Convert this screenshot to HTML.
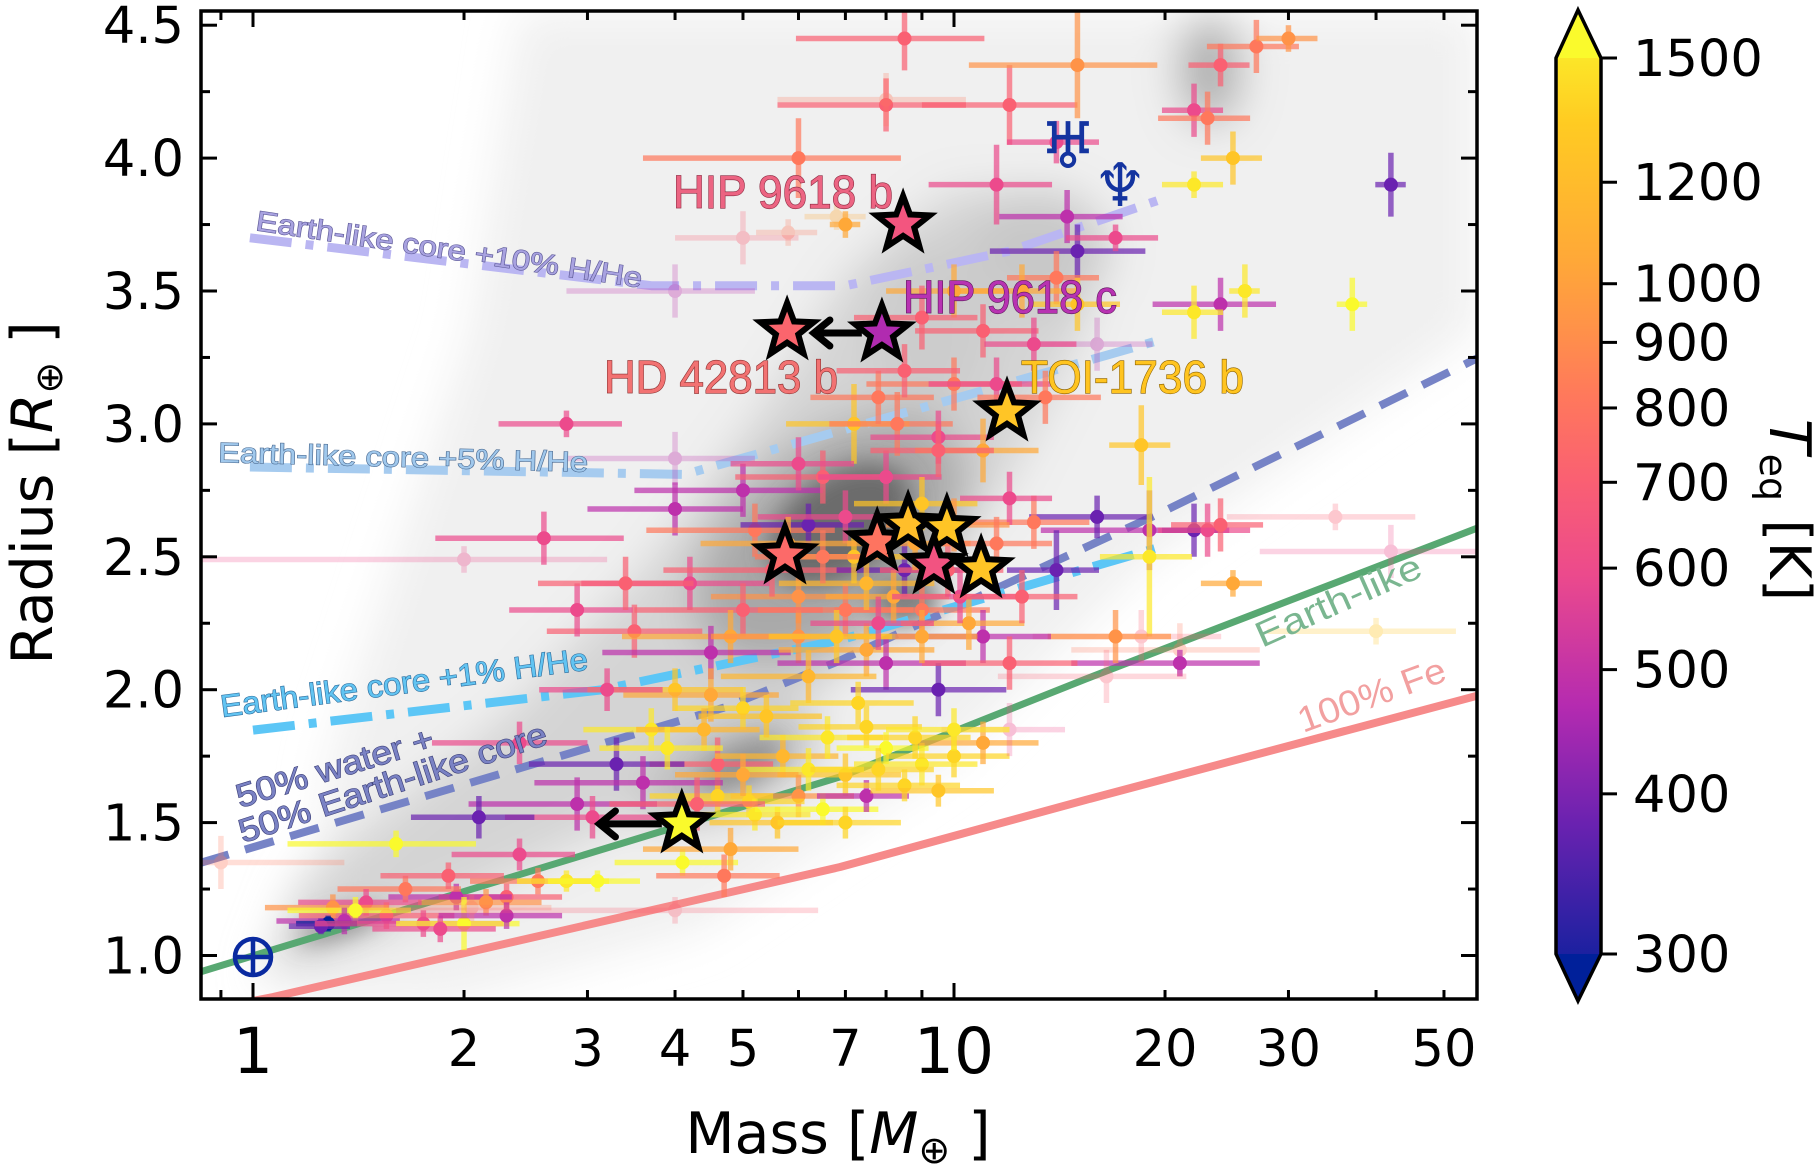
<!DOCTYPE html>
<html><head><meta charset="utf-8"><style>
html,body{margin:0;padding:0;background:#fff}
svg{display:block}
text{font-family:"DejaVu Sans","Liberation Sans",sans-serif}
.lbl{font-family:"Liberation Sans",sans-serif;paint-order:stroke}
</style></head><body>
<svg id="chart" width="1820" height="1167" viewBox="0 0 1820 1167" xmlns="http://www.w3.org/2000/svg">
<defs>
<clipPath id="plotclip"><rect x="201" y="11" width="1276" height="988"/></clipPath>
<filter id="blur" x="-20%" y="-20%" width="140%" height="140%"><feGaussianBlur stdDeviation="22"/></filter>
<filter id="blur2" x="-20%" y="-20%" width="140%" height="140%"><feGaussianBlur stdDeviation="12"/></filter>
<linearGradient id="cbgrad" x1="0" y1="1" x2="0" y2="0">
<stop offset="0" stop-color="#00209a"/><stop offset="0.179" stop-color="#6a22b0"/>
<stop offset="0.298" stop-color="#b52bb0"/><stop offset="0.431" stop-color="#ec4a8c"/>
<stop offset="0.527" stop-color="#fa6072"/><stop offset="0.609" stop-color="#ff785c"/>
<stop offset="0.682" stop-color="#ff9348"/><stop offset="0.747" stop-color="#ffa838"/>
<stop offset="0.886" stop-color="#ffcb22"/><stop offset="1" stop-color="#fafa2c"/>
</linearGradient>
</defs>
<g clip-path="url(#plotclip)">
  <g filter="url(#blur)">
    <polygon points="520,11 1477,11 1477,330 1150,560 950,760 700,930 450,1000 300,1000 330,760 470,330" fill="#f0f0f0"/>
    <polygon points="260,985 450,905 650,810 800,710 910,610 1010,480 1090,320 1070,190 950,190 850,270 760,410 650,560 500,720 300,880" fill="#d4d4d4"/>
    <ellipse cx="830" cy="540" rx="160" ry="95" transform="rotate(-40 830 540)" fill="#a8a8a8"/>
    <ellipse cx="730" cy="770" rx="95" ry="40" transform="rotate(-25 730 770)" fill="#b8b8b8"/>
    <ellipse cx="1040" cy="250" rx="70" ry="60" fill="#c8c8c8"/>
    <ellipse cx="1210" cy="70" rx="30" ry="55" fill="#a8a8a8"/>
    <ellipse cx="930" cy="330" rx="60" ry="90" fill="#cccccc"/>
  </g>
  <g filter="url(#blur2)">
    <ellipse cx="840" cy="525" rx="80" ry="50" transform="rotate(-35 840 525)" fill="#6c6c6c"/>
    <ellipse cx="905" cy="600" rx="35" ry="25" fill="#808080"/>
    <ellipse cx="340" cy="925" rx="45" ry="10" transform="rotate(-18 340 925)" fill="#808080"/>
    <ellipse cx="740" cy="765" rx="45" ry="18" transform="rotate(-25 740 765)" fill="#909090"/>
  </g>
  <g id="models"></g>
  <g id="points"></g>
  <g id="stars"></g>
</g>
<g id="axes"></g>
<g id="labels"></g>
<g id="colorbar"></g>
</svg>
<script>
// ---- data ----
const masses=[8.5,8,8,6,12,14,11.5,15,24,22,
27,30,23,25,22,42,14.5,15,17,14,
7,5.8,6.8,5,10,12.5,15,16,24,22,
26,37,4,9,11,13,10,11.5,13.5,2.8,
4,7.2,8.3,9.5,11,18.5,19,22,23,24,
16,14,13,12,19,35,42,40,25,21,
21,16.5,18.5,17,2.6,2.0,4,3.5,2.9,4.2,
5,5.2,6.2,6,5.5,5,4.8,4.5,6,7,
7.5,8,9,9.5,11,12,10.5,8.5,7,6.5,
8,9,10,7.5,9,
4,4.5,5,3.7,4.6,5.7,6.6,7.5,8,9,
10,11,12,7,6,5.1,4.6,5.2,5.6,6.5,
7.5,8.5,9.5,3.3,3.6,2.9,4.3,3.05,4.1,4.8,
4.7,2.1,2.4,1.6,0.9,2.55,2.8,3.1,2.3,1.95,
2.15,1.65,1.45,1.55,1.3,1.4,1.35,1.28,1.25,1.75,
2.0,1.85,2.3,2.05,4.0,
7.2,8.2,6.5,9.8,8.8,6.8,7.8,5.8,10.2,6.2,
7.3,5.4,6.2,7.8,8.8,5.0,4.4,3.9,9.5,7.8,
11.5,12.5,6.0,8.5,3.2,3.4,2.4,1.9,7.0,10.0];
const radii=[4.45,4.2,4.22,4.0,4.2,4.06,3.9,4.35,4.35,4.18,
4.42,4.45,4.15,4.0,3.9,3.9,3.78,3.65,3.7,3.55,
3.75,3.72,3.78,3.7,3.5,3.5,3.45,3.3,3.45,3.42,
3.5,3.45,3.5,3.4,3.35,3.3,3.15,3.15,3.1,3.0,
2.87,3.0,3.0,2.95,2.9,2.92,2.6,2.6,2.6,2.62,
2.65,2.45,2.63,2.72,2.5,2.65,2.52,2.22,2.4,2.15,
2.1,2.05,2.2,2.2,2.57,2.49,2.68,2.22,2.3,2.4,
2.75,2.6,2.62,2.35,2.45,2.3,2.2,2.14,2.2,2.3,
2.15,2.1,2.3,2.0,2.2,2.1,2.25,2.45,2.65,2.8,
2.8,2.7,2.62,2.4,2.2,
2.0,1.98,1.93,1.85,1.72,1.75,1.82,1.86,1.78,1.72,
1.75,1.8,1.85,1.68,1.6,1.58,1.6,1.53,1.5,1.55,
1.6,1.64,1.62,1.72,1.65,1.57,1.57,1.52,1.35,1.4,
1.3,1.52,1.38,1.42,1.35,1.28,1.28,1.28,1.22,1.22,
1.2,1.25,1.2,1.15,1.18,1.17,1.13,1.12,1.11,1.12,
1.12,1.1,1.15,1.18,1.17,
2.5,2.35,2.5,2.45,2.55,2.2,2.25,2.55,2.35,2.05,
1.95,1.9,1.7,1.7,1.82,1.68,1.85,1.78,2.9,3.1,
2.55,2.35,2.85,3.2,2.0,2.4,1.8,1.3,1.5,1.85];
const teqs=[700,700,800,800,700,600,600,900,700,600,
800,900,800,1200,1400,400,500,400,600,800,
1000,800,1000,700,1000,1000,1200,500,500,1400,
1400,1500,500,700,700,600,800,600,800,600,
500,1200,800,600,1000,1200,500,400,600,700,
400,400,800,600,1400,700,600,1200,1000,800,
500,700,700,900,600,600,500,700,600,600,
500,800,400,900,700,700,1000,500,900,800,
1000,500,800,400,500,700,1000,400,600,700,
600,1200,900,1100,1000,
1200,1000,1300,1400,700,1100,1400,1300,1500,1400,
1300,1000,600,1200,900,1300,1300,1400,1200,1500,
500,1300,1200,400,500,500,700,600,1500,1000,
800,400,600,1500,800,800,1400,1500,700,500,
900,800,600,700,900,1500,500,300,400,600,
1500,600,500,800,700,
1200,1000,800,700,1000,1200,600,1000,600,1100,
1300,1200,1400,1300,1300,1000,1100,1400,700,800,
800,700,600,700,600,700,600,700,1300,1400];
const massErrFrac=[.3,.3,.3,.4,.25,.15,.2,.3,.1,.1,
.15,.1,.15,.1,.1,.05,.2,.25,.15,.15,
.05,.1,.1,.2,.2,.2,.15,.2,.2,.1,
.05,.05,.3,.2,.2,.15,.25,.2,.2,.2,
.3,.2,.2,.2,.2,.1,.3,.1,.15,.15,
.2,.15,.2,.15,.15,.3,.35,.3,.1,.3,
.3,.3,.3,.2,.3,.6,.25,.25,.2,.3,
.3,.3,.2,.25,.3,.3,.3,.3,.25,.25,
.25,.3,.25,.25,.25,.25,.2,.2,.25,.25,
.2,.2,.2,.25,.2,
.25,.25,.2,.2,.2,.2,.2,.2,.15,.2,
.2,.2,.2,.2,.2,.2,.2,.2,.2,.2,
.15,.2,.2,.25,.3,.3,.25,.25,.2,.25,
.2,.2,.2,.3,.5,.2,.15,.15,.2,.2,
.2,.2,.2,.25,.2,.2,.2,.1,.1,.3,
.2,.2,.2,.3,.6,
.2,.2,.2,.2,.2,.2,.2,.25,.2,.25,
.2,.2,.2,.2,.2,.2,.2,.2,.2,.2,
.2,.2,.2,.2,.2,.25,.25,.2,.2,.2];
const radErr=[.12,.1,.1,.15,.15,.08,.15,.2,.08,.1,
.1,.05,.1,.1,.05,.12,.1,.1,.05,.1,
.05,.05,.05,.1,.1,.1,.1,.1,.1,.1,
.1,.1,.1,.12,.1,.1,.1,.1,.1,.05,
.1,.15,.12,.1,.12,.15,.15,.1,.1,.1,
.08,.15,.1,.1,.3,.05,.1,.05,.05,.1,
.05,.1,.1,.1,.1,.05,.1,.1,.1,.1,
.1,.1,.08,.1,.1,.1,.1,.1,.1,.1,
.1,.1,.1,.1,.1,.1,.1,.1,.1,.1,
.1,.1,.1,.1,.1,
.08,.1,.08,.08,.1,.08,.08,.08,.06,.08,
.08,.08,.1,.08,.08,.06,.06,.06,.06,.06,
.06,.06,.06,.1,.1,.1,.1,.08,.05,.08,
.08,.08,.06,.05,.1,.05,.04,.04,.05,.05,
.05,.05,.05,.05,.05,.05,.05,.03,.03,.05,
.1,.05,.05,.05,.05,
.1,.1,.1,.1,.1,.1,.1,.1,.1,.1,
.08,.08,.08,.08,.08,.08,.08,.08,.1,.1,
.1,.1,.1,.1,.08,.1,.08,.05,.06,.08];
const fadedIdx=[2,21,22,23,27,32,40,55,56,57,59,61,62,65,107,129,148,149];
// highlighted planets
const starNames=["HIP 9618 b","HIP 9618 c","HD 42813 b","TOI-1736 b","s5","s6","s7","s8","s9","s10","s11"];
const starMass=[8.46,7.89,5.78,11.9,5.74,7.77,8.6,9.77,9.36,10.93,4.09];
const starRad=[3.752,3.342,3.35,3.045,2.507,2.556,2.62,2.61,2.47,2.455,1.495];
const starTeq=[650,480,720,1200,740,780,1150,1200,640,1200,1500];
const arrowFrom=[1,10]; const arrowToMass=[6.27,3.10];
// model curves
const feMass=[0.84,1.068,6.88,15.4,56.3], feRad=[0.79,0.844,1.333,1.585,1.98];
const earthMass=[0.84,6.88,15.4,56.3], earthRad=[0.938,1.672,2.04,2.612];
const waterMass=[0.84,4.73,6.88,19.7,56.3], waterRad=[1.348,1.935,2.11,2.665,3.252];
const h1Mass=[1.0,3.13,6.88,19.7], h1Rad=[1.848,1.999,2.187,2.537];
const h5Mass=[0.99,4.13,9.87,19.7], h5Rad=[2.838,2.81,3.09,3.316];
const h10Mass=[0.99,3.7,7,12,20], h10Rad=[3.70,3.52,3.52,3.65,3.85];
const yTicks=[1.0,1.5,2.0,2.5,3.0,3.5,4.0,4.5];
const xMinorLabels=[2,3,4,5,7,20,30,50];
const cbTicks=[300,400,500,600,700,800,900,1000,1200,1500];

// ---- scales ----
const X0=253, XD=701, Y1=955.5, YU=265.8;
const sx=m=>X0+XD*Math.log10(m);
const sy=r=>Y1-(r-1)*YU;
const cbY=t=>954-(Math.log10(t)-Math.log10(300))/(Math.log10(1500)-Math.log10(300))*896;
const NS="http://www.w3.org/2000/svg";
function mk(tag,attrs,parent){const e=document.createElementNS(NS,tag);for(const k in attrs)e.setAttribute(k,attrs[k]);if(parent)parent.appendChild(e);return e;}
const stops=[[0,[0,32,154]],[.179,[106,34,176]],[.298,[181,43,176]],[.431,[236,74,140]],[.527,[250,96,114]],[.609,[255,120,92]],[.682,[255,147,72]],[.747,[255,168,56]],[.886,[255,203,34]],[1,[250,250,44]]];
function cmap(t){let v=(Math.log10(t)-Math.log10(300))/(Math.log10(1500)-Math.log10(300));v=Math.max(0,Math.min(1,v));
for(let i=1;i<stops.length;i++){if(v<=stops[i][0]){const a=stops[i-1],b=stops[i],f=(v-a[0])/(b[0]-a[0]);return 'rgb('+a[1].map((c,j)=>Math.round(c+(b[1][j]-c)*f)).join(',')+')';}}return 'rgb(250,250,44)';}

// ---- models ----
const gm=document.getElementById('models');
function curve(ms,rs,style,name){const pts=ms.map((m,i)=>sx(m).toFixed(1)+','+sy(rs[i]).toFixed(1)).join(' ');
const p=mk('polyline',Object.assign({points:pts,fill:'none','stroke-linejoin':'round'},style),gm);

}
curve(feMass,feRad,{stroke:'#f68a8a','stroke-width':8},'iron-model-line');
curve(earthMass,earthRad,{stroke:'#58a872','stroke-width':7},'earth-like-model-line');
curve(waterMass,waterRad,{stroke:'#7683c6','stroke-width':8,'stroke-dasharray':'30 17'},'water-model-line');
curve(h1Mass,h1Rad,{stroke:'#5cc6f6','stroke-width':9,'stroke-dasharray':'42 14 8 14'},'hhe-1pct-model-line');
curve(h5Mass,h5Rad,{stroke:'#a6cbef','stroke-width':9,'stroke-dasharray':'42 14 8 14'},'hhe-5pct-model-line');
curve(h10Mass,h10Rad,{stroke:'#bab6f2','stroke-width':9,'stroke-dasharray':'42 14 8 14'},'hhe-10pct-model-line');

// ---- points ----
const gp=document.getElementById('points');
masses.forEach((m,i)=>{
  const c=cmap(teqs[i]);const faded=fadedIdx.includes(i);
  const g=mk('g',{opacity:faded?0.35:1},gp);
  
  
  const x=sx(m),y=sy(radii[i]);
  mk('line',{x1:sx(m*(1-massErrFrac[i])),x2:sx(m*(1+massErrFrac[i])),y1:y,y2:y,stroke:c,'stroke-width':5.5,opacity:0.7},g);
  mk('line',{x1:x,x2:x,y1:sy(radii[i]-radErr[i]),y2:sy(radii[i]+radErr[i]),stroke:c,'stroke-width':5.5,opacity:0.7},g);
  mk('circle',{cx:x,cy:y,r:7,fill:c},g);
});

// ---- stars & arrows ----
const gs=document.getElementById('stars');
function starPath(cx,cy,R){const r=R*0.42;let d='';for(let k=0;k<10;k++){const a=-Math.PI/2+k*Math.PI/5;const rr=k%2?r:R;d+=(k?'L':'M')+(cx+rr*Math.cos(a)).toFixed(1)+','+(cy+rr*Math.sin(a)).toFixed(1);}return d+'Z';}
arrowFrom.forEach((si,k)=>{
  const y=sy(starRad[si]),x1=sx(starMass[si])-20,x2=sx(arrowToMass[k]);
  const g=mk('g',{},gs);
  
  
  mk('line',{x1:x1,y1:y,x2:x2+4,y2:y,stroke:'#000','stroke-width':7},g);
  mk('polyline',{points:(x2+18)+','+(y-13)+' '+(x2+2)+','+y+' '+(x2+18)+','+(y+13),fill:'none',stroke:'#000','stroke-width':7,'stroke-linecap':'round'},g);
});
starMass.forEach((m,i)=>{
  const p=mk('path',{d:starPath(sx(m),sy(starRad[i]),28),fill:cmap(starTeq[i]),stroke:'#000','stroke-width':6,'stroke-linejoin':'miter'},gs);
  
  
});

// ---- axes ----
const ga=document.getElementById('axes');
mk('rect',{x:201,y:11,width:1276,height:988,fill:'none',stroke:'#000','stroke-width':3.5},ga);
for(let r=0.75;r<=4.6;r+=0.25){const y=sy(r);if(y<11||y>999)continue;const major=Math.abs(r*2-Math.round(r*2))<1e-6;const L=major?16:9;
  mk('line',{x1:201,x2:201+L,y1:y,y2:y,stroke:'#000','stroke-width':3},ga);
  mk('line',{x1:1477,x2:1477-L,y1:y,y2:y,stroke:'#000','stroke-width':3},ga);}
yTicks.forEach(v=>{const t=mk('text',{x:184,y:sy(v)+18,'font-size':51,'text-anchor':'end',fill:'#000'},ga);t.textContent=v.toFixed(1);
  
  });
[0.9,1,2,3,4,5,6,7,8,9,10,20,30,40,50].forEach(m=>{const x=sx(m);const L=(m===1||m===10)?16:9;
  mk('line',{x1:x,x2:x,y1:999,y2:999-L,stroke:'#000','stroke-width':3},ga);
  mk('line',{x1:x,x2:x,y1:11,y2:11+L,stroke:'#000','stroke-width':3},ga);});
xMinorLabels.forEach(m=>{const t=mk('text',{x:sx(m),y:1066,'font-size':51,'text-anchor':'middle',fill:'#000'},ga);t.textContent=m;
  
  });
[1,10].forEach(m=>{const t=mk('text',{x:sx(m),y:1073,'font-size':63,'text-anchor':'middle',fill:'#000'},ga);t.textContent=m;
  
  });
</script>
<script>
// static labels
(function(){
const NS="http://www.w3.org/2000/svg";
const gl=document.getElementById('labels');
function txt(s,attrs,name){const t=document.createElementNS(NS,'text');for(const k in attrs)t.setAttribute(k,attrs[k]);t.textContent=s;gl.appendChild(t);

return t;}
txt('Earth-like core +10% H/He',{class:'lbl',x:255,y:230,'font-size':28,fill:'#a8a2e0',stroke:'#5e5a98','stroke-width':1.2,textLength:390,lengthAdjust:'spacingAndGlyphs',transform:'rotate(8.5 255 230)'},'hhe-10pct-label');
txt('Earth-like core +5% H/He',{class:'lbl',x:218,y:462,'font-size':28,fill:'#a0c8ec',stroke:'#4d6d94','stroke-width':1.2,textLength:370,lengthAdjust:'spacingAndGlyphs',transform:'rotate(1.5 218 462)'},'hhe-5pct-label');
txt('Earth-like core +1% H/He',{class:'lbl',x:222,y:717,'font-size':31,fill:'#62c4f2',stroke:'#2b6a9a','stroke-width':1.2,textLength:370,lengthAdjust:'spacingAndGlyphs',transform:'rotate(-7.4 222 717)'},'hhe-1pct-label');
txt('50% water +',{class:'lbl',x:240,y:808,'font-size':33,fill:'#7a82c4',stroke:'#3c3f78','stroke-width':1.2,textLength:205,lengthAdjust:'spacingAndGlyphs',transform:'rotate(-17 240 808)'},'water-label-line1');
txt('50% Earth-like core',{class:'lbl',x:243,y:843,'font-size':33,fill:'#7a82c4',stroke:'#3c3f78','stroke-width':1.2,textLength:322,lengthAdjust:'spacingAndGlyphs',transform:'rotate(-18 243 843)'},'water-label-line2');
txt('Earth-like',{class:'lbl',x:1262,y:648,'font-size':36,fill:'#7ab690',textLength:178,lengthAdjust:'spacingAndGlyphs',transform:'rotate(-24 1262 648)'},'earth-like-label');
txt('100% Fe',{class:'lbl',x:1303,y:733,'font-size':36,fill:'#f2a0a0',textLength:155,lengthAdjust:'spacingAndGlyphs',transform:'rotate(-20 1303 733)'},'iron-label');
txt('HIP 9618 b',{class:'lbl',x:673,y:208,'font-size':46,fill:'#ec6482',stroke:'#8a2a40','stroke-width':1.2,textLength:220,lengthAdjust:'spacingAndGlyphs'},'hip9618b-label');
txt('HIP 9618 c',{class:'lbl',x:903,y:313,'font-size':46,fill:'#b832b2','stroke':'#5a1a5a','stroke-width':1.2,textLength:214,lengthAdjust:'spacingAndGlyphs'},'hip9618c-label');
txt('HD 42813 b',{class:'lbl',x:604,y:393,'font-size':46,fill:'#f27272',stroke:'#8a3030','stroke-width':1.2,textLength:234,lengthAdjust:'spacingAndGlyphs'},'hd42813b-label');
txt('TOI-1736 b',{class:'lbl',x:1021,y:393,'font-size':46,fill:'#ffc420',stroke:'#8a6000','stroke-width':1.2,textLength:223,lengthAdjust:'spacingAndGlyphs'},'toi1736b-label');
txt('♅',{x:1068,y:168,'font-size':64,'text-anchor':'middle',fill:'#1434a0'},'uranus-symbol');
txt('♆',{x:1120,y:206,'font-size':60,'text-anchor':'middle',fill:'#1434a0'},'neptune-symbol');
// earth symbol
const eg=document.createElementNS(NS,'g');gl.appendChild(eg);


eg.innerHTML='<circle cx="253" cy="957" r="18" fill="none" stroke="#0a2aa0" stroke-width="4.5"/><line x1="253" y1="939" x2="253" y2="975" stroke="#0a2aa0" stroke-width="4.5"/><line x1="235" y1="957" x2="271" y2="957" stroke="#0a2aa0" stroke-width="4.5"/>';
// axis titles
const xt=txt('',{x:838,y:1153,'font-size':57,'text-anchor':'middle',fill:'#000'},'x-axis-title');
xt.innerHTML='Mass [<tspan font-style="italic">M</tspan><tspan font-size="38" dy="10">⊕</tspan><tspan dy="-10"> ]</tspan>';
const yt=txt('',{x:0,y:0,'font-size':57,'text-anchor':'middle',fill:'#000',transform:'translate(52 493) rotate(-90)'},'y-axis-title');
yt.innerHTML='Radius [<tspan font-style="italic">R</tspan><tspan font-size="38" dy="10">⊕</tspan><tspan dy="-10"> ]</tspan>';
// colorbar
const cb=document.getElementById('colorbar');
cb.innerHTML='<path d="M1556,954 L1556,58 L1578,10 L1601,58 L1601,954 L1578,1001 Z" fill="url(#cbgrad)"/><path d="M1556,58 L1578,10 L1601,58 Z" fill="#fafa2c"/><path d="M1556,954 L1578,1001 L1601,954 Z" fill="#00209a"/><path d="M1556,954 L1556,58 L1578,10 L1601,58 L1601,954 L1578,1001 Z" fill="none" stroke="#000" stroke-width="3.5"/>';


cbTicks.forEach(t=>{const y=cbY(t);
  const l=document.createElementNS(NS,'line');l.setAttribute('x1',1601);l.setAttribute('x2',1617);l.setAttribute('y1',y);l.setAttribute('y2',y);l.setAttribute('stroke','#000');l.setAttribute('stroke-width',3);cb.appendChild(l);
  const tx=document.createElementNS(NS,'text');tx.setAttribute('x',1633);tx.setAttribute('y',y+18);tx.setAttribute('font-size',51);tx.textContent=t;cb.appendChild(tx);
  
  });
const ct=txt('',{x:0,y:0,'font-size':57,'text-anchor':'middle',fill:'#000',transform:'translate(1770 510) rotate(90)'},'colorbar-title');
ct.innerHTML='<tspan font-style="italic">T</tspan><tspan font-size="38" dy="10">eq</tspan><tspan dy="-10"> [K]</tspan>';
})();
</script>
</body></html>
